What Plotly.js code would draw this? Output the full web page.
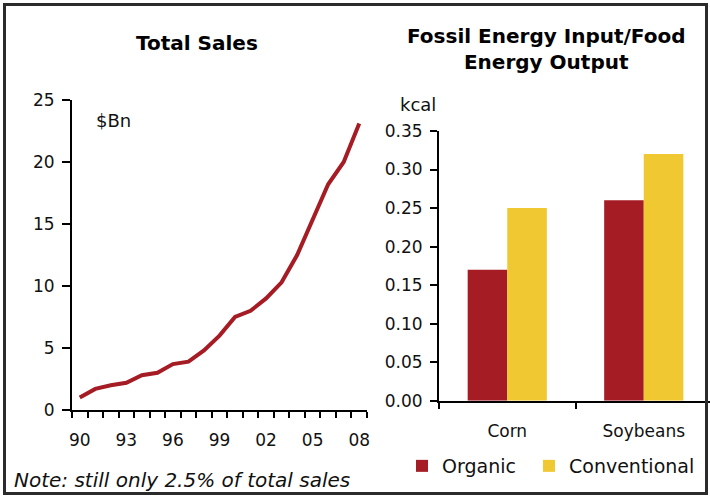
<!DOCTYPE html>
<html>
<head>
<meta charset="utf-8">
<script src="https://cdn.plot.ly/plotly-3.0.1.min.js"></script>
<style>html,body{margin:0;padding:0;background:#fff;}#chart{width:710px;height:497px;}</style>
</head>
<body>
<div id="chart"></div>
<script>
// ---- data ----
var years = [1990,1991,1992,1993,1994,1995,1996,1997,1998,1999,2000,2001,2002,2003,2004,2005,2006,2007,2008];
var salesBn = [1.0,1.7,2.0,2.2,2.8,3.0,3.7,3.9,4.8,6.0,7.5,8.0,9.0,10.3,12.5,15.3,18.2,20.0,23.1];
var yearTickVals = [1990,1993,1996,1999,2002,2005,2008];
var yearTickText = ["90","93","96","99","02","05","08"];
var crops = ["Corn","Soybeans"];
var organic = [0.17,0.26];
var conventional = [0.25,0.32];

var RED = "#a51c24", YEL = "#f0c832";
var FONT = "DejaVu Sans, Verdana, sans-serif";
var W = 710, H = 497;
function px(x){return x/W;}
function py(y){return 1 - y/H;}

var traces = [
  {x: years, y: salesBn, type: "scatter", mode: "lines", xaxis: "x", yaxis: "y",
   line: {color: RED, width: 4}, showlegend: false, hoverinfo: "x+y"},
  {x: crops, y: organic, type: "bar", name: "Organic", xaxis: "x2", yaxis: "y2",
   marker: {color: RED}, legend: "legend"},
  {x: crops, y: conventional, type: "bar", name: "Conventional", xaxis: "x2", yaxis: "y2",
   marker: {color: YEL}, legend: "legend2"}
];

var axisCommon = {showgrid: false, zeroline: false, showline: true, linecolor: "#000", linewidth: 2,
  ticks: "outside", tickcolor: "#000", tickwidth: 2, automargin: false,
  tickfont: {family: FONT, size: 17, color: "#111"}};

var legendCommon = {orientation: "h", xanchor: "left", y: py(466), yanchor: "middle",
  font: {family: FONT, size: 19, color: "#111"}, bgcolor: "rgba(0,0,0,0)", itemclick: false};

var layout = {
  width: W, height: H, autosize: false,
  margin: {l: 0, r: 0, t: 0, b: 0, pad: 0},
  paper_bgcolor: "#fff", plot_bgcolor: "rgba(0,0,0,0)",
  font: {family: FONT, color: "#111"},
  barmode: "group", bargap: 0.42, bargroupgap: 0,
  xaxis: Object.assign({}, axisCommon, {
    domain: [px(72), px(367)], range: [1989.5, 2008.5],
    tickmode: "array", tickvals: yearTickVals, ticktext: yearTickText, ticklen: 0,
    ticklabelstandoff: 14,
    minor: {tick0: 1989.5, dtick: 1, ticks: "outside", ticklen: 6, tickwidth: 2, tickcolor: "#000", showgrid: false},
    anchor: "y"
  }),
  yaxis: Object.assign({}, axisCommon, {
    domain: [py(410), py(100)], range: [0, 25], dtick: 5, ticklen: 8,
    ticklabelstandoff: 4, anchor: "x"
  }),
  xaxis2: Object.assign({}, axisCommon, {
    domain: [px(439), 1], range: [-0.5, 1.5 - 2/136.5], type: "category",
    tickson: "boundaries", ticklen: 6, ticklabelstandoff: 14, anchor: "y2"
  }),
  yaxis2: Object.assign({}, axisCommon, {
    domain: [py(400.7), py(131)], range: [0, 0.35], dtick: 0.05, tickformat: ".2f", ticklen: 7,
    ticklabelstandoff: 4, anchor: "x2"
  }),
  showlegend: true,
  legend: Object.assign({}, legendCommon, {x: px(402)}),
  legend2: Object.assign({}, legendCommon, {x: px(529)}),
  annotations: [
    {text: "<b>Total Sales</b>", xref: "paper", yref: "paper", x: px(197), y: py(43), showarrow: false,
     font: {family: FONT, size: 20, color: "#000"}, xanchor: "center", yanchor: "middle"},
    {text: "<b>Fossil Energy Input/Food</b><br><b>Energy Output</b>", xref: "paper", yref: "paper",
     x: px(546), y: py(49), showarrow: false, align: "center",
     font: {family: FONT, size: 20, color: "#000"}, xanchor: "center", yanchor: "middle"},
    {text: "$Bn", xref: "paper", yref: "paper", x: px(94), y: py(120), showarrow: false,
     font: {family: FONT, size: 18, color: "#111"}, xanchor: "left", yanchor: "middle"},
    {text: "kcal", xref: "paper", yref: "paper", x: px(398), y: py(104), showarrow: false,
     font: {family: FONT, size: 18, color: "#111"}, xanchor: "left", yanchor: "middle"},
    {text: "<i>Note: still only 2.5% of total sales</i>", xref: "paper", yref: "paper", x: px(12), y: py(480),
     showarrow: false, font: {family: FONT, size: 20, color: "#111"}, xanchor: "left", yanchor: "middle"}
  ],
  shapes: [
    {type: "rect", xref: "paper", yref: "paper", x0: px(4.5), x1: px(706.5), y0: py(493.5), y1: py(4.5),
     line: {color: "#2b2b2b", width: 3}, fillcolor: "rgba(0,0,0,0)", layer: "above"}
  ]
};

Plotly.newPlot("chart", traces, layout, {displayModeBar: false, staticPlot: true});
</script>
</body>
</html>
